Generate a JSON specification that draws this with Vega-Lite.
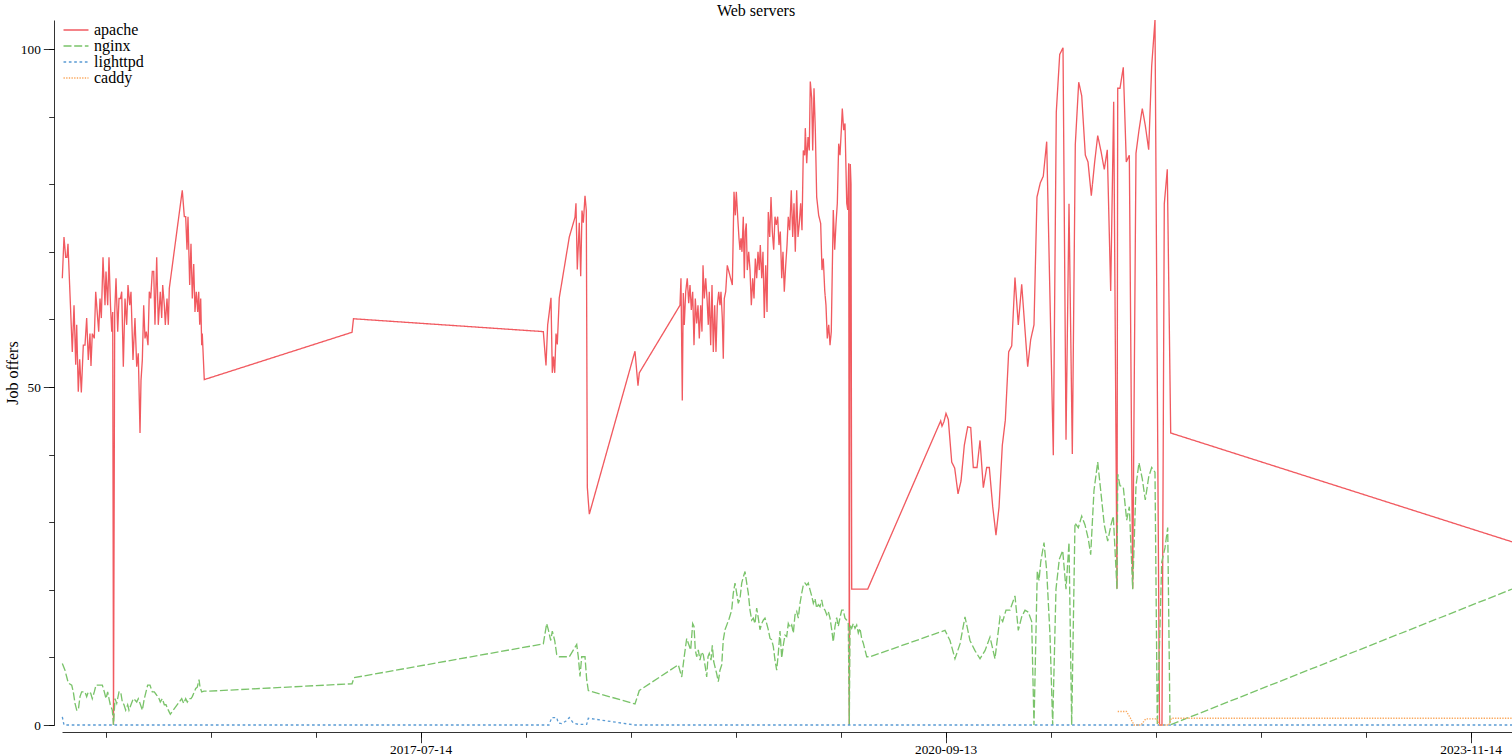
{
"$schema":"https://vega.github.io/schema/vega-lite/v6.json",
"width":1450,"height":705,
"autosize":{"type":"none"},
"padding":{"left":62,"top":20,"right":0,"bottom":31},
"background":"white",
"title":{"text":"Web servers","font":"Liberation Serif","fontSize":16,"fontWeight":"normal","color":"black","dx":-31,"dy":5,"offset":3,"anchor":"middle"},
"config":{"view":{"stroke":null},"font":"Liberation Serif"},
"data":{"values":[
{"server":"apache","time":1431.77e9,"offers":66.1},
{"server":"apache","time":1432.09e9,"offers":72.2},
{"server":"apache","time":1432.41e9,"offers":69.2},
{"server":"apache","time":1432.66e9,"offers":69.2},
{"server":"apache","time":1432.85e9,"offers":71.2},
{"server":"apache","time":1433.67e9,"offers":55.2},
{"server":"apache","time":1434.00e9,"offers":62.1},
{"server":"apache","time":1434.32e9,"offers":53.3},
{"server":"apache","time":1434.51e9,"offers":59.2},
{"server":"apache","time":1434.81e9,"offers":49.3},
{"server":"apache","time":1435.08e9,"offers":54.1},
{"server":"apache","time":1435.39e9,"offers":49.2},
{"server":"apache","time":1435.77e9,"offers":56.2},
{"server":"apache","time":1436.09e9,"offers":56.2},
{"server":"apache","time":1436.41e9,"offers":60.2},
{"server":"apache","time":1436.72e9,"offers":54.0},
{"server":"apache","time":1437.04e9,"offers":57.9},
{"server":"apache","time":1437.23e9,"offers":53.1},
{"server":"apache","time":1437.48e9,"offers":57.9},
{"server":"apache","time":1437.86e9,"offers":57.2},
{"server":"apache","time":1438.13e9,"offers":64.1},
{"server":"apache","time":1438.47e9,"offers":60.5},
{"server":"apache","time":1438.70e9,"offers":58.2},
{"server":"apache","time":1438.95e9,"offers":63.1},
{"server":"apache","time":1439.20e9,"offers":60.2},
{"server":"apache","time":1439.52e9,"offers":69.2},
{"server":"apache","time":1439.90e9,"offers":62.1},
{"server":"apache","time":1440.09e9,"offers":67.1},
{"server":"apache","time":1440.41e9,"offers":62.1},
{"server":"apache","time":1440.66e9,"offers":69.2},
{"server":"apache","time":1440.95e9,"offers":62.0},
{"server":"apache","time":1441.18e9,"offers":58.2},
{"server":"apache","time":1441.37e9,"offers":61.1},
{"server":"apache","time":1441.52e9,"offers":0},
{"server":"apache","time":1441.75e9,"offers":61.1},
{"server":"apache","time":1442.00e9,"offers":66.1},
{"server":"apache","time":1442.32e9,"offers":58.2},
{"server":"apache","time":1442.57e9,"offers":63.1},
{"server":"apache","time":1442.85e9,"offers":63.1},
{"server":"apache","time":1443.08e9,"offers":64.1},
{"server":"apache","time":1443.39e9,"offers":53.0},
{"server":"apache","time":1443.71e9,"offers":63.1},
{"server":"apache","time":1444.03e9,"offers":59.2},
{"server":"apache","time":1444.28e9,"offers":65.1},
{"server":"apache","time":1444.61e9,"offers":62.1},
{"server":"apache","time":1444.85e9,"offers":64.1},
{"server":"apache","time":1445.23e9,"offers":54.0},
{"server":"apache","time":1445.61e9,"offers":60.2},
{"server":"apache","time":1445.94e9,"offers":53.0},
{"server":"apache","time":1446.24e9,"offers":55.0},
{"server":"apache","time":1446.57e9,"offers":43.2},
{"server":"apache","time":1446.76e9,"offers":51.0},
{"server":"apache","time":1447.01e9,"offers":54.0},
{"server":"apache","time":1447.27e9,"offers":62.1},
{"server":"apache","time":1447.52e9,"offers":57.2},
{"server":"apache","time":1447.77e9,"offers":58.2},
{"server":"apache","time":1448.09e9,"offers":56.2},
{"server":"apache","time":1448.34e9,"offers":64.1},
{"server":"apache","time":1448.61e9,"offers":63.1},
{"server":"apache","time":1448.91e9,"offers":67.1},
{"server":"apache","time":1449.18e9,"offers":67.1},
{"server":"apache","time":1449.42e9,"offers":59.2},
{"server":"apache","time":1449.75e9,"offers":69.2},
{"server":"apache","time":1450.05e9,"offers":59.2},
{"server":"apache","time":1450.43e9,"offers":64.1},
{"server":"apache","time":1450.70e9,"offers":60.2},
{"server":"apache","time":1450.89e9,"offers":65.1},
{"server":"apache","time":1451.20e9,"offers":62.1},
{"server":"apache","time":1451.39e9,"offers":59.2},
{"server":"apache","time":1451.71e9,"offers":63.1},
{"server":"apache","time":1451.96e9,"offers":59.2},
{"server":"apache","time":1452.15e9,"offers":64.6},
{"server":"apache","time":1454.62e9,"offers":79.1},
{"server":"apache","time":1455.01e9,"offers":75.2},
{"server":"apache","time":1455.27e9,"offers":75.2},
{"server":"apache","time":1455.52e9,"offers":70.3},
{"server":"apache","time":1455.71e9,"offers":75.2},
{"server":"apache","time":1456.03e9,"offers":65.1},
{"server":"apache","time":1456.28e9,"offers":71.2},
{"server":"apache","time":1456.53e9,"offers":63.1},
{"server":"apache","time":1456.80e9,"offers":68.2},
{"server":"apache","time":1457.04e9,"offers":61.1},
{"server":"apache","time":1457.29e9,"offers":64.1},
{"server":"apache","time":1457.56e9,"offers":61.1},
{"server":"apache","time":1457.75e9,"offers":64.1},
{"server":"apache","time":1457.94e9,"offers":59.2},
{"server":"apache","time":1458.13e9,"offers":63.1},
{"server":"apache","time":1458.32e9,"offers":56.2},
{"server":"apache","time":1458.43e9,"offers":57.9},
{"server":"apache","time":1458.81e9,"offers":51.1},
{"server":"apache","time":1486.95e9,"offers":58.1},
{"server":"apache","time":1487.23e9,"offers":60.1},
{"server":"apache","time":1523.39e9,"offers":58.2},
{"server":"apache","time":1523.90e9,"offers":53.2},
{"server":"apache","time":1524.22e9,"offers":59.2},
{"server":"apache","time":1524.53e9,"offers":61.1},
{"server":"apache","time":1524.85e9,"offers":63.2},
{"server":"apache","time":1525.10e9,"offers":52.1},
{"server":"apache","time":1525.33e9,"offers":54.5},
{"server":"apache","time":1525.56e9,"offers":52.1},
{"server":"apache","time":1525.81e9,"offers":57.9},
{"server":"apache","time":1526.05e9,"offers":56.3},
{"server":"apache","time":1526.43e9,"offers":63.2},
{"server":"apache","time":1528.34e9,"offers":72.2},
{"server":"apache","time":1529.42e9,"offers":75.1},
{"server":"apache","time":1529.61e9,"offers":77.2},
{"server":"apache","time":1529.86e9,"offers":67.4},
{"server":"apache","time":1530.24e9,"offers":74.3},
{"server":"apache","time":1530.51e9,"offers":66.4},
{"server":"apache","time":1530.76e9,"offers":76.1},
{"server":"apache","time":1531.01e9,"offers":74.3},
{"server":"apache","time":1531.33e9,"offers":78.3},
{"server":"apache","time":1531.58e9,"offers":76.1},
{"server":"apache","time":1531.77e9,"offers":35.2},
{"server":"apache","time":1531.96e9,"offers":33.1},
{"server":"apache","time":1532.15e9,"offers":31.2},
{"server":"apache","time":1540.85e9,"offers":55.3},
{"server":"apache","time":1541.42e9,"offers":50.2},
{"server":"apache","time":1541.67e9,"offers":52.1},
{"server":"apache","time":1549.42e9,"offers":62.1},
{"server":"apache","time":1549.61e9,"offers":66.1},
{"server":"apache","time":1549.86e9,"offers":48.0},
{"server":"apache","time":1550.05e9,"offers":63.9},
{"server":"apache","time":1550.24e9,"offers":59.2},
{"server":"apache","time":1550.51e9,"offers":64.1},
{"server":"apache","time":1550.81e9,"offers":66.1},
{"server":"apache","time":1551.08e9,"offers":62.4},
{"server":"apache","time":1551.33e9,"offers":65.1},
{"server":"apache","time":1551.58e9,"offers":61.4},
{"server":"apache","time":1551.84e9,"offers":64.1},
{"server":"apache","time":1552.09e9,"offers":56.2},
{"server":"apache","time":1552.34e9,"offers":63.1},
{"server":"apache","time":1552.60e9,"offers":59.4},
{"server":"apache","time":1552.85e9,"offers":62.1},
{"server":"apache","time":1553.10e9,"offers":57.2},
{"server":"apache","time":1553.37e9,"offers":62.1},
{"server":"apache","time":1553.61e9,"offers":58.2},
{"server":"apache","time":1553.81e9,"offers":68.0},
{"server":"apache","time":1554.05e9,"offers":63.1},
{"server":"apache","time":1554.32e9,"offers":66.1},
{"server":"apache","time":1554.57e9,"offers":63.1},
{"server":"apache","time":1554.81e9,"offers":59.2},
{"server":"apache","time":1555.00e9,"offers":64.1},
{"server":"apache","time":1555.27e9,"offers":56.2},
{"server":"apache","time":1555.52e9,"offers":65.1},
{"server":"apache","time":1555.77e9,"offers":55.2},
{"server":"apache","time":1556.03e9,"offers":62.1},
{"server":"apache","time":1556.28e9,"offers":55.2},
{"server":"apache","time":1556.53e9,"offers":62.1},
{"server":"apache","time":1556.80e9,"offers":64.1},
{"server":"apache","time":1557.04e9,"offers":62.1},
{"server":"apache","time":1557.23e9,"offers":64.1},
{"server":"apache","time":1557.48e9,"offers":60.2},
{"server":"apache","time":1557.67e9,"offers":54.2},
{"server":"apache","time":1557.86e9,"offers":63.1},
{"server":"apache","time":1558.13e9,"offers":64.1},
{"server":"apache","time":1558.43e9,"offers":68.0},
{"server":"apache","time":1559.39e9,"offers":65.1},
{"server":"apache","time":1559.71e9,"offers":78.9},
{"server":"apache","time":1559.96e9,"offers":75.4},
{"server":"apache","time":1560.15e9,"offers":78.9},
{"server":"apache","time":1560.41e9,"offers":75.2},
{"server":"apache","time":1560.66e9,"offers":72.0},
{"server":"apache","time":1560.85e9,"offers":70.3},
{"server":"apache","time":1561.04e9,"offers":72.0},
{"server":"apache","time":1561.23e9,"offers":70.0},
{"server":"apache","time":1561.48e9,"offers":75.2},
{"server":"apache","time":1561.67e9,"offers":66.1},
{"server":"apache","time":1561.86e9,"offers":73.0},
{"server":"apache","time":1562.05e9,"offers":74.2},
{"server":"apache","time":1562.24e9,"offers":67.3},
{"server":"apache","time":1562.51e9,"offers":70.0},
{"server":"apache","time":1562.76e9,"offers":67.3},
{"server":"apache","time":1563.01e9,"offers":62.1},
{"server":"apache","time":1563.27e9,"offers":66.1},
{"server":"apache","time":1563.52e9,"offers":63.1},
{"server":"apache","time":1563.77e9,"offers":69.0},
{"server":"apache","time":1564.03e9,"offers":66.1},
{"server":"apache","time":1564.28e9,"offers":70.0},
{"server":"apache","time":1564.53e9,"offers":67.3},
{"server":"apache","time":1564.72e9,"offers":71.0},
{"server":"apache","time":1564.99e9,"offers":66.1},
{"server":"apache","time":1565.23e9,"offers":70.0},
{"server":"apache","time":1565.48e9,"offers":60.2},
{"server":"apache","time":1565.75e9,"offers":68.0},
{"server":"apache","time":1566.00e9,"offers":61.1},
{"server":"apache","time":1566.24e9,"offers":75.9},
{"server":"apache","time":1566.51e9,"offers":72.2},
{"server":"apache","time":1566.76e9,"offers":78.1},
{"server":"apache","time":1567.01e9,"offers":73.0},
{"server":"apache","time":1567.27e9,"offers":70.3},
{"server":"apache","time":1567.52e9,"offers":75.2},
{"server":"apache","time":1567.77e9,"offers":74.0},
{"server":"apache","time":1568.03e9,"offers":75.2},
{"server":"apache","time":1568.28e9,"offers":71.0},
{"server":"apache","time":1568.53e9,"offers":73.0},
{"server":"apache","time":1568.80e9,"offers":66.1},
{"server":"apache","time":1569.04e9,"offers":70.0},
{"server":"apache","time":1569.29e9,"offers":64.1},
{"server":"apache","time":1569.56e9,"offers":68.0},
{"server":"apache","time":1569.81e9,"offers":71.0},
{"server":"apache","time":1570.05e9,"offers":75.2},
{"server":"apache","time":1570.32e9,"offers":73.2},
{"server":"apache","time":1570.62e9,"offers":79.1},
{"server":"apache","time":1570.89e9,"offers":72.2},
{"server":"apache","time":1571.14e9,"offers":77.2},
{"server":"apache","time":1571.39e9,"offers":70.0},
{"server":"apache","time":1571.65e9,"offers":79.1},
{"server":"apache","time":1571.90e9,"offers":72.2},
{"server":"apache","time":1572.15e9,"offers":74.2},
{"server":"apache","time":1572.41e9,"offers":77.2},
{"server":"apache","time":1572.66e9,"offers":73.2},
{"server":"apache","time":1572.91e9,"offers":85.0},
{"server":"apache","time":1573.18e9,"offers":84.3},
{"server":"apache","time":1573.29e9,"offers":88.3},
{"server":"apache","time":1573.56e9,"offers":83.1},
{"server":"apache","time":1573.81e9,"offers":87.0},
{"server":"apache","time":1574.05e9,"offers":85.0},
{"server":"apache","time":1574.24e9,"offers":95.2},
{"server":"apache","time":1574.51e9,"offers":92.7},
{"server":"apache","time":1574.70e9,"offers":85.0},
{"server":"apache","time":1574.95e9,"offers":94.2},
{"server":"apache","time":1575.20e9,"offers":88.0},
{"server":"apache","time":1575.46e9,"offers":78.1},
{"server":"apache","time":1575.84e9,"offers":75.4},
{"server":"apache","time":1576.22e9,"offers":74.2},
{"server":"apache","time":1576.47e9,"offers":67.3},
{"server":"apache","time":1576.72e9,"offers":69.0},
{"server":"apache","time":1576.99e9,"offers":64.3},
{"server":"apache","time":1577.23e9,"offers":62.1},
{"server":"apache","time":1577.48e9,"offers":57.2},
{"server":"apache","time":1577.75e9,"offers":59.2},
{"server":"apache","time":1578.00e9,"offers":56.2},
{"server":"apache","time":1578.24e9,"offers":58.2},
{"server":"apache","time":1578.62e9,"offers":76.2},
{"server":"apache","time":1578.89e9,"offers":70.3},
{"server":"apache","time":1579.14e9,"offers":74.2},
{"server":"apache","time":1579.39e9,"offers":77.2},
{"server":"apache","time":1579.65e9,"offers":86.0},
{"server":"apache","time":1579.90e9,"offers":84.3},
{"server":"apache","time":1580.15e9,"offers":88.0},
{"server":"apache","time":1580.34e9,"offers":91.2},
{"server":"apache","time":1580.60e9,"offers":88.0},
{"server":"apache","time":1580.85e9,"offers":89.0},
{"server":"apache","time":1581.18e9,"offers":77.2},
{"server":"apache","time":1581.37e9,"offers":76.2},
{"server":"apache","time":1581.56e9,"offers":83.1},
{"server":"apache","time":1581.67e9,"offers":0},
{"server":"apache","time":1581.86e9,"offers":83.0},
{"server":"apache","time":1582.00e9,"offers":80.0},
{"server":"apache","time":1582.13e9,"offers":20.1},
{"server":"apache","time":1585.18e9,"offers":20.1},
{"server":"apache","time":1599.08e9,"offers":45.0},
{"server":"apache","time":1599.33e9,"offers":44.2},
{"server":"apache","time":1599.71e9,"offers":44.9},
{"server":"apache","time":1600.09e9,"offers":46.1},
{"server":"apache","time":1600.53e9,"offers":45.2},
{"server":"apache","time":1601.18e9,"offers":38.9},
{"server":"apache","time":1601.75e9,"offers":38.0},
{"server":"apache","time":1602.38e9,"offers":34.2},
{"server":"apache","time":1602.95e9,"offers":36.1},
{"server":"apache","time":1603.58e9,"offers":41.4},
{"server":"apache","time":1604.22e9,"offers":44.1},
{"server":"apache","time":1604.80e9,"offers":44.0},
{"server":"apache","time":1605.29e9,"offers":38.1},
{"server":"apache","time":1606.00e9,"offers":38.1},
{"server":"apache","time":1606.57e9,"offers":42.1},
{"server":"apache","time":1607.20e9,"offers":35.1},
{"server":"apache","time":1607.84e9,"offers":38.1},
{"server":"apache","time":1608.34e9,"offers":38.1},
{"server":"apache","time":1608.99e9,"offers":32.3},
{"server":"apache","time":1609.61e9,"offers":28.1},
{"server":"apache","time":1610.19e9,"offers":32.2},
{"server":"apache","time":1610.82e9,"offers":41.4},
{"server":"apache","time":1611.39e9,"offers":45.1},
{"server":"apache","time":1612.03e9,"offers":55.2},
{"server":"apache","time":1612.61e9,"offers":56.1},
{"server":"apache","time":1613.23e9,"offers":66.2},
{"server":"apache","time":1613.86e9,"offers":59.2},
{"server":"apache","time":1614.51e9,"offers":65.2},
{"server":"apache","time":1615.65e9,"offers":53.0},
{"server":"apache","time":1616.22e9,"offers":57.0},
{"server":"apache","time":1616.85e9,"offers":59.2},
{"server":"apache","time":1617.42e9,"offers":78.1},
{"server":"apache","time":1618.05e9,"offers":80.2},
{"server":"apache","time":1618.62e9,"offers":81.2},
{"server":"apache","time":1619.27e9,"offers":86.3},
{"server":"apache","time":1620.53e9,"offers":39.9},
{"server":"apache","time":1621.10e9,"offers":90.7},
{"server":"apache","time":1621.75e9,"offers":99.2},
{"server":"apache","time":1622.38e9,"offers":100.2},
{"server":"apache","time":1622.95e9,"offers":42.2},
{"server":"apache","time":1623.52e9,"offers":77.1},
{"server":"apache","time":1624.15e9,"offers":40.1},
{"server":"apache","time":1624.72e9,"offers":85.9},
{"server":"apache","time":1625.37e9,"offers":95.1},
{"server":"apache","time":1625.94e9,"offers":93.1},
{"server":"apache","time":1626.63e9,"offers":84.3},
{"server":"apache","time":1627.14e9,"offers":83.3},
{"server":"apache","time":1627.77e9,"offers":78.3},
{"server":"apache","time":1628.41e9,"offers":83.3},
{"server":"apache","time":1628.99e9,"offers":87.2},
{"server":"apache","time":1629.61e9,"offers":84.9},
{"server":"apache","time":1630.24e9,"offers":82.2},
{"server":"apache","time":1630.81e9,"offers":85.1},
{"server":"apache","time":1631.46e9,"offers":64.2},
{"server":"apache","time":1632.03e9,"offers":92.2},
{"server":"apache","time":1632.66e9,"offers":20.2},
{"server":"apache","time":1632.80e9,"offers":94.2},
{"server":"apache","time":1633.23e9,"offers":94.2},
{"server":"apache","time":1633.86e9,"offers":97.3},
{"server":"apache","time":1634.43e9,"offers":83.3},
{"server":"apache","time":1635.01e9,"offers":84.3},
{"server":"apache","time":1635.65e9,"offers":20.2},
{"server":"apache","time":1636.28e9,"offers":84.6},
{"server":"apache","time":1636.85e9,"offers":88.0},
{"server":"apache","time":1637.48e9,"offers":91.2},
{"server":"apache","time":1638.05e9,"offers":88.7},
{"server":"apache","time":1638.70e9,"offers":85.1},
{"server":"apache","time":1639.27e9,"offers":97.5},
{"server":"apache","time":1639.90e9,"offers":104.3},
{"server":"apache","time":1640.76e9,"offers":0},
{"server":"apache","time":1641.23e9,"offers":0},
{"server":"apache","time":1641.67e9,"offers":77.1},
{"server":"apache","time":1642.24e9,"offers":82.2},
{"server":"apache","time":1642.89e9,"offers":43.2},
{"server":"apache","time":1707.90e9,"offers":27.1},
{"server":"nginx","time":1431.77e9,"offers":9.1},
{"server":"nginx","time":1432.28e9,"offers":8.1},
{"server":"nginx","time":1432.61e9,"offers":7.1},
{"server":"nginx","time":1432.91e9,"offers":6.2},
{"server":"nginx","time":1433.56e9,"offers":5.9},
{"server":"nginx","time":1433.86e9,"offers":4.9},
{"server":"nginx","time":1434.19e9,"offers":3.2},
{"server":"nginx","time":1434.51e9,"offers":2.2},
{"server":"nginx","time":1434.81e9,"offers":2.2},
{"server":"nginx","time":1435.14e9,"offers":4.2},
{"server":"nginx","time":1435.46e9,"offers":4.9},
{"server":"nginx","time":1436.09e9,"offers":4.9},
{"server":"nginx","time":1436.41e9,"offers":4.2},
{"server":"nginx","time":1436.72e9,"offers":4.9},
{"server":"nginx","time":1437.18e9,"offers":4.7},
{"server":"nginx","time":1437.48e9,"offers":3.9},
{"server":"nginx","time":1437.86e9,"offers":4.9},
{"server":"nginx","time":1438.19e9,"offers":5.9},
{"server":"nginx","time":1438.76e9,"offers":5.9},
{"server":"nginx","time":1439.14e9,"offers":5.9},
{"server":"nginx","time":1439.39e9,"offers":5.9},
{"server":"nginx","time":1439.77e9,"offers":4.9},
{"server":"nginx","time":1440.09e9,"offers":3.9},
{"server":"nginx","time":1440.41e9,"offers":4.9},
{"server":"nginx","time":1440.66e9,"offers":3.9},
{"server":"nginx","time":1440.91e9,"offers":3.0},
{"server":"nginx","time":1441.29e9,"offers":2.2},
{"server":"nginx","time":1441.52e9,"offers":0},
{"server":"nginx","time":1441.81e9,"offers":3.9},
{"server":"nginx","time":1442.13e9,"offers":3.2},
{"server":"nginx","time":1442.57e9,"offers":4.9},
{"server":"nginx","time":1442.89e9,"offers":4.9},
{"server":"nginx","time":1443.20e9,"offers":3.4},
{"server":"nginx","time":1443.52e9,"offers":3.0},
{"server":"nginx","time":1443.84e9,"offers":2.2},
{"server":"nginx","time":1444.22e9,"offers":3.0},
{"server":"nginx","time":1444.47e9,"offers":2.2},
{"server":"nginx","time":1444.85e9,"offers":3.0},
{"server":"nginx","time":1445.29e9,"offers":3.9},
{"server":"nginx","time":1445.61e9,"offers":3.7},
{"server":"nginx","time":1445.94e9,"offers":3.4},
{"server":"nginx","time":1446.24e9,"offers":3.9},
{"server":"nginx","time":1446.57e9,"offers":3.2},
{"server":"nginx","time":1447.01e9,"offers":2.2},
{"server":"nginx","time":1447.39e9,"offers":3.9},
{"server":"nginx","time":1447.71e9,"offers":4.9},
{"server":"nginx","time":1448.03e9,"offers":5.9},
{"server":"nginx","time":1448.47e9,"offers":5.9},
{"server":"nginx","time":1448.91e9,"offers":4.9},
{"server":"nginx","time":1449.29e9,"offers":4.9},
{"server":"nginx","time":1449.75e9,"offers":4.4},
{"server":"nginx","time":1450.05e9,"offers":4.2},
{"server":"nginx","time":1450.43e9,"offers":3.4},
{"server":"nginx","time":1450.81e9,"offers":3.9},
{"server":"nginx","time":1451.20e9,"offers":3.0},
{"server":"nginx","time":1451.52e9,"offers":3.0},
{"server":"nginx","time":1451.96e9,"offers":2.2},
{"server":"nginx","time":1452.34e9,"offers":1.6},
{"server":"nginx","time":1454.51e9,"offers":3.9},
{"server":"nginx","time":1454.89e9,"offers":3.2},
{"server":"nginx","time":1455.27e9,"offers":3.9},
{"server":"nginx","time":1455.58e9,"offers":3.4},
{"server":"nginx","time":1455.96e9,"offers":3.9},
{"server":"nginx","time":1456.28e9,"offers":3.9},
{"server":"nginx","time":1456.53e9,"offers":4.2},
{"server":"nginx","time":1456.91e9,"offers":4.9},
{"server":"nginx","time":1457.18e9,"offers":5.4},
{"server":"nginx","time":1457.48e9,"offers":5.6},
{"server":"nginx","time":1457.81e9,"offers":6.7},
{"server":"nginx","time":1458.00e9,"offers":5.6},
{"server":"nginx","time":1458.32e9,"offers":4.9},
{"server":"nginx","time":1458.76e9,"offers":5.0},
{"server":"nginx","time":1459.58e9,"offers":5.0},
{"server":"nginx","time":1486.95e9,"offers":6.1},
{"server":"nginx","time":1487.33e9,"offers":7.0},
{"server":"nginx","time":1523.39e9,"offers":12.0},
{"server":"nginx","time":1524.03e9,"offers":15.0},
{"server":"nginx","time":1524.34e9,"offers":14.1},
{"server":"nginx","time":1524.80e9,"offers":12.5},
{"server":"nginx","time":1525.10e9,"offers":13.9},
{"server":"nginx","time":1525.56e9,"offers":12.5},
{"server":"nginx","time":1525.94e9,"offers":10.4},
{"server":"nginx","time":1526.43e9,"offers":10.1},
{"server":"nginx","time":1528.34e9,"offers":10.1},
{"server":"nginx","time":1529.75e9,"offers":11.9},
{"server":"nginx","time":1530.05e9,"offers":10.1},
{"server":"nginx","time":1530.38e9,"offers":7.2},
{"server":"nginx","time":1530.70e9,"offers":10.1},
{"server":"nginx","time":1531.33e9,"offers":10.1},
{"server":"nginx","time":1531.65e9,"offers":6.7},
{"server":"nginx","time":1531.96e9,"offers":5.1},
{"server":"nginx","time":1540.85e9,"offers":3.1},
{"server":"nginx","time":1541.67e9,"offers":5.1},
{"server":"nginx","time":1549.10e9,"offers":8.9},
{"server":"nginx","time":1549.75e9,"offers":7.1},
{"server":"nginx","time":1550.19e9,"offers":9.9},
{"server":"nginx","time":1550.70e9,"offers":12.8},
{"server":"nginx","time":1551.01e9,"offers":12.1},
{"server":"nginx","time":1551.46e9,"offers":11.1},
{"server":"nginx","time":1551.84e9,"offers":15.0},
{"server":"nginx","time":1552.09e9,"offers":14.6},
{"server":"nginx","time":1552.34e9,"offers":11.1},
{"server":"nginx","time":1552.60e9,"offers":10.1},
{"server":"nginx","time":1552.91e9,"offers":11.1},
{"server":"nginx","time":1553.23e9,"offers":9.6},
{"server":"nginx","time":1553.56e9,"offers":10.8},
{"server":"nginx","time":1553.86e9,"offers":10.4},
{"server":"nginx","time":1554.24e9,"offers":8.6},
{"server":"nginx","time":1554.51e9,"offers":7.1},
{"server":"nginx","time":1554.76e9,"offers":10.1},
{"server":"nginx","time":1555.00e9,"offers":10.6},
{"server":"nginx","time":1555.33e9,"offers":9.6},
{"server":"nginx","time":1555.58e9,"offers":11.8},
{"server":"nginx","time":1555.84e9,"offers":9.4},
{"server":"nginx","time":1556.09e9,"offers":8.6},
{"server":"nginx","time":1556.41e9,"offers":7.6},
{"server":"nginx","time":1556.72e9,"offers":6.4},
{"server":"nginx","time":1557.04e9,"offers":8.1},
{"server":"nginx","time":1557.37e9,"offers":8.9},
{"server":"nginx","time":1557.67e9,"offers":12.6},
{"server":"nginx","time":1558.00e9,"offers":14.1},
{"server":"nginx","time":1558.43e9,"offers":15.0},
{"server":"nginx","time":1558.81e9,"offers":15.8},
{"server":"nginx","time":1559.27e9,"offers":17.0},
{"server":"nginx","time":1559.58e9,"offers":19.5},
{"server":"nginx","time":1559.90e9,"offers":21.0},
{"server":"nginx","time":1560.22e9,"offers":19.5},
{"server":"nginx","time":1560.53e9,"offers":18.0},
{"server":"nginx","time":1560.85e9,"offers":18.7},
{"server":"nginx","time":1561.18e9,"offers":21.0},
{"server":"nginx","time":1561.48e9,"offers":21.9},
{"server":"nginx","time":1561.81e9,"offers":22.7},
{"server":"nginx","time":1562.13e9,"offers":21.0},
{"server":"nginx","time":1562.43e9,"offers":19.5},
{"server":"nginx","time":1562.76e9,"offers":17.0},
{"server":"nginx","time":1563.08e9,"offers":15.5},
{"server":"nginx","time":1563.39e9,"offers":15.8},
{"server":"nginx","time":1563.71e9,"offers":15.0},
{"server":"nginx","time":1564.03e9,"offers":17.3},
{"server":"nginx","time":1564.34e9,"offers":15.8},
{"server":"nginx","time":1564.66e9,"offers":14.1},
{"server":"nginx","time":1564.99e9,"offers":15.0},
{"server":"nginx","time":1565.29e9,"offers":15.5},
{"server":"nginx","time":1565.61e9,"offers":15.8},
{"server":"nginx","time":1565.94e9,"offers":15.0},
{"server":"nginx","time":1566.24e9,"offers":14.1},
{"server":"nginx","time":1566.57e9,"offers":12.8},
{"server":"nginx","time":1566.89e9,"offers":12.6},
{"server":"nginx","time":1567.20e9,"offers":11.6},
{"server":"nginx","time":1567.52e9,"offers":9.6},
{"server":"nginx","time":1567.84e9,"offers":8.1},
{"server":"nginx","time":1568.15e9,"offers":10.6},
{"server":"nginx","time":1568.47e9,"offers":13.9},
{"server":"nginx","time":1568.80e9,"offers":9.9},
{"server":"nginx","time":1569.10e9,"offers":11.8},
{"server":"nginx","time":1569.42e9,"offers":13.3},
{"server":"nginx","time":1569.75e9,"offers":13.1},
{"server":"nginx","time":1570.05e9,"offers":15.0},
{"server":"nginx","time":1570.38e9,"offers":14.4},
{"server":"nginx","time":1570.70e9,"offers":14.8},
{"server":"nginx","time":1571.01e9,"offers":13.6},
{"server":"nginx","time":1571.33e9,"offers":16.3},
{"server":"nginx","time":1571.65e9,"offers":16.8},
{"server":"nginx","time":1571.96e9,"offers":15.8},
{"server":"nginx","time":1572.28e9,"offers":18.0},
{"server":"nginx","time":1572.61e9,"offers":19.5},
{"server":"nginx","time":1572.91e9,"offers":20.7},
{"server":"nginx","time":1573.23e9,"offers":21.0},
{"server":"nginx","time":1573.56e9,"offers":20.7},
{"server":"nginx","time":1573.86e9,"offers":21.0},
{"server":"nginx","time":1574.19e9,"offers":20.0},
{"server":"nginx","time":1574.51e9,"offers":19.1},
{"server":"nginx","time":1574.82e9,"offers":18.0},
{"server":"nginx","time":1575.14e9,"offers":18.7},
{"server":"nginx","time":1575.46e9,"offers":17.3},
{"server":"nginx","time":1575.77e9,"offers":17.8},
{"server":"nginx","time":1576.09e9,"offers":17.5},
{"server":"nginx","time":1576.41e9,"offers":18.5},
{"server":"nginx","time":1576.72e9,"offers":17.3},
{"server":"nginx","time":1577.04e9,"offers":17.0},
{"server":"nginx","time":1577.37e9,"offers":16.3},
{"server":"nginx","time":1577.67e9,"offers":16.8},
{"server":"nginx","time":1578.00e9,"offers":15.8},
{"server":"nginx","time":1578.32e9,"offers":14.1},
{"server":"nginx","time":1578.62e9,"offers":12.3},
{"server":"nginx","time":1578.95e9,"offers":14.6},
{"server":"nginx","time":1579.27e9,"offers":15.9},
{"server":"nginx","time":1579.58e9,"offers":14.6},
{"server":"nginx","time":1579.90e9,"offers":15.9},
{"server":"nginx","time":1580.22e9,"offers":17.0},
{"server":"nginx","time":1580.53e9,"offers":17.0},
{"server":"nginx","time":1580.85e9,"offers":15.8},
{"server":"nginx","time":1581.18e9,"offers":15.5},
{"server":"nginx","time":1581.48e9,"offers":15.0},
{"server":"nginx","time":1581.67e9,"offers":0},
{"server":"nginx","time":1581.81e9,"offers":14.8},
{"server":"nginx","time":1582.13e9,"offers":14.3},
{"server":"nginx","time":1582.43e9,"offers":15.0},
{"server":"nginx","time":1582.76e9,"offers":14.3},
{"server":"nginx","time":1583.08e9,"offers":14.8},
{"server":"nginx","time":1583.39e9,"offers":13.6},
{"server":"nginx","time":1583.71e9,"offers":14.3},
{"server":"nginx","time":1584.03e9,"offers":12.8},
{"server":"nginx","time":1584.34e9,"offers":12.1},
{"server":"nginx","time":1584.66e9,"offers":11.1},
{"server":"nginx","time":1584.99e9,"offers":10.1},
{"server":"nginx","time":1585.61e9,"offers":10.1},
{"server":"nginx","time":1599.90e9,"offers":14.0},
{"server":"nginx","time":1600.85e9,"offers":12.5},
{"server":"nginx","time":1601.80e9,"offers":9.8},
{"server":"nginx","time":1602.76e9,"offers":12.0},
{"server":"nginx","time":1603.71e9,"offers":16.0},
{"server":"nginx","time":1604.66e9,"offers":12.5},
{"server":"nginx","time":1605.61e9,"offers":11.0},
{"server":"nginx","time":1606.57e9,"offers":9.8},
{"server":"nginx","time":1607.52e9,"offers":11.0},
{"server":"nginx","time":1608.47e9,"offers":13.0},
{"server":"nginx","time":1609.42e9,"offers":9.8},
{"server":"nginx","time":1610.38e9,"offers":16.0},
{"server":"nginx","time":1610.89e9,"offers":15.3},
{"server":"nginx","time":1611.52e9,"offers":17.0},
{"server":"nginx","time":1612.28e9,"offers":17.0},
{"server":"nginx","time":1613.23e9,"offers":19.1},
{"server":"nginx","time":1613.86e9,"offers":14.0},
{"server":"nginx","time":1614.51e9,"offers":16.0},
{"server":"nginx","time":1615.14e9,"offers":17.0},
{"server":"nginx","time":1615.77e9,"offers":16.7},
{"server":"nginx","time":1616.41e9,"offers":15.3},
{"server":"nginx","time":1616.85e9,"offers":0},
{"server":"nginx","time":1617.48e9,"offers":22.8},
{"server":"nginx","time":1617.81e9,"offers":21.4},
{"server":"nginx","time":1618.13e9,"offers":24.1},
{"server":"nginx","time":1618.76e9,"offers":27.0},
{"server":"nginx","time":1619.27e9,"offers":22.8},
{"server":"nginx","time":1619.90e9,"offers":13.3},
{"server":"nginx","time":1620.41e9,"offers":0},
{"server":"nginx","time":1621.04e9,"offers":20.1},
{"server":"nginx","time":1621.67e9,"offers":24.5},
{"server":"nginx","time":1622.32e9,"offers":25.8},
{"server":"nginx","time":1622.95e9,"offers":20.1},
{"server":"nginx","time":1623.52e9,"offers":27.0},
{"server":"nginx","time":1624.03e9,"offers":0},
{"server":"nginx","time":1624.66e9,"offers":29.9},
{"server":"nginx","time":1625.29e9,"offers":29.2},
{"server":"nginx","time":1625.94e9,"offers":30.9},
{"server":"nginx","time":1626.57e9,"offers":29.6},
{"server":"nginx","time":1627.20e9,"offers":27.5},
{"server":"nginx","time":1627.65e9,"offers":25.2},
{"server":"nginx","time":1628.28e9,"offers":34.7},
{"server":"nginx","time":1628.99e9,"offers":38.9},
{"server":"nginx","time":1629.61e9,"offers":34.3},
{"server":"nginx","time":1630.24e9,"offers":29.6},
{"server":"nginx","time":1630.89e9,"offers":27.2},
{"server":"nginx","time":1631.52e9,"offers":29.6},
{"server":"nginx","time":1631.96e9,"offers":30.9},
{"server":"nginx","time":1632.66e9,"offers":20.1},
{"server":"nginx","time":1632.80e9,"offers":37.1},
{"server":"nginx","time":1633.23e9,"offers":35.4},
{"server":"nginx","time":1633.86e9,"offers":35.2},
{"server":"nginx","time":1634.51e9,"offers":30.3},
{"server":"nginx","time":1635.01e9,"offers":32.3},
{"server":"nginx","time":1635.65e9,"offers":20.1},
{"server":"nginx","time":1636.28e9,"offers":35.4},
{"server":"nginx","time":1636.85e9,"offers":38.8},
{"server":"nginx","time":1637.48e9,"offers":36.4},
{"server":"nginx","time":1638.05e9,"offers":33.3},
{"server":"nginx","time":1638.70e9,"offers":36.7},
{"server":"nginx","time":1639.27e9,"offers":38.1},
{"server":"nginx","time":1639.90e9,"offers":37.4},
{"server":"nginx","time":1640.34e9,"offers":0},
{"server":"nginx","time":1641.18e9,"offers":24.1},
{"server":"nginx","time":1641.80e9,"offers":26.2},
{"server":"nginx","time":1642.32e9,"offers":29.2},
{"server":"nginx","time":1642.76e9,"offers":0},
{"server":"nginx","time":1707.90e9,"offers":20.1},
{"server":"lighttpd","time":1431.77e9,"offers":1.2},
{"server":"lighttpd","time":1432.09e9,"offers":0},
{"server":"lighttpd","time":1524.47e9,"offers":0},
{"server":"lighttpd","time":1524.99e9,"offers":1.1},
{"server":"lighttpd","time":1525.94e9,"offers":1.1},
{"server":"lighttpd","time":1526.24e9,"offers":0.3},
{"server":"lighttpd","time":1526.89e9,"offers":0.2},
{"server":"lighttpd","time":1527.71e9,"offers":0.6},
{"server":"lighttpd","time":1528.34e9,"offers":1.1},
{"server":"lighttpd","time":1529.10e9,"offers":0.3},
{"server":"lighttpd","time":1530.05e9,"offers":0.1},
{"server":"lighttpd","time":1531.65e9,"offers":0.1},
{"server":"lighttpd","time":1531.96e9,"offers":1.0},
{"server":"lighttpd","time":1540.85e9,"offers":0},
{"server":"lighttpd","time":1707.90e9,"offers":0},
{"server":"caddy","time":1632.80e9,"offers":2.0},
{"server":"caddy","time":1634.47e9,"offers":2.0},
{"server":"caddy","time":1635.23e9,"offers":1.0},
{"server":"caddy","time":1635.90e9,"offers":0},
{"server":"caddy","time":1637.23e9,"offers":0},
{"server":"caddy","time":1638.13e9,"offers":0.9},
{"server":"caddy","time":1640.28e9,"offers":0.9},
{"server":"caddy","time":1640.78e9,"offers":0},
{"server":"caddy","time":1642.57e9,"offers":0},
{"server":"caddy","time":1643.01e9,"offers":1.0},
{"server":"caddy","time":1707.90e9,"offers":1.0}
]},
"layer":[
{"mark":{"type":"line","strokeWidth":1.33,"strokeCap":"butt","clip":false},
 "encoding":{
  "x":{"field":"time","type":"temporal","scale":{"type":"utc","domain":[1431710000000,1707900000000]},
       "axis":{"orient":"bottom","offset":7,"values":[1.44e12,1.46e12,1.48e12,1.50e12,1.52e12,1.54e12,1.56e12,1.58e12,1.60e12,1.62e12,1.64e12,1.66e12,1.68e12,1.70e12],"tickSize":5.3,"labels":false,"title":null,"grid":false,"domainColor":"black","domainWidth":0.8,"tickColor":"black","tickWidth":0.8}},
  "y":{"field":"offers","type":"quantitative","scale":{"domain":[0,104.3],"nice":false,"zero":false},
       "axis":{"orient":"left","offset":8,"values":[0,10,20,30,40,50,60,70,80,90,100],"tickSize":5.3,"labels":false,"title":null,"grid":false,"domainColor":"black","domainWidth":0.8,"tickColor":"black","tickWidth":0.8}},
  "color":{"field":"server","type":"nominal","scale":{"domain":["apache","nginx","lighttpd","caddy"],"range":["#f15a60","#7ac36a","#5a9bd4","#faa75b"]},
       "legend":{"orient":"none","legendX":6,"legendY":2,"direction":"vertical","title":null,"labelFont":"Liberation Serif","labelFontSize":16,"labelColor":"black","labelBaseline":"middle","symbolType":"M-2,0H2","symbolSize":156,"symbolStrokeWidth":1.33,"rowPadding":0,"labelOffset":10,"padding":0}},
  "strokeDash":{"field":"server","type":"nominal","scale":{"domain":["apache","nginx","lighttpd","caddy"],"range":[[1,0],[8,2.67],[2.67,2.67],[1.33,1.33]]}}
 }},
{"mark":{"type":"point","opacity":0},
 "encoding":{
  "x":{"field":"time","type":"temporal","scale":{"type":"utc","domain":[1431710000000,1707900000000]},
       "axis":{"orient":"bottom","offset":7,"values":[1.5e12,1.6e12,1.7e12],"tickSize":10.7,"domain":false,"labelExpr":"utcFormat(datum.value, '%Y-%m-%d')","labelFont":"Liberation Serif","labelFontSize":13.3,"labelColor":"black","labelPadding":0,"labelFlush":false,"labelOverlap":false,"title":null,"grid":false,"tickColor":"black","tickWidth":0.8}},
  "y":{"field":"offers","type":"quantitative","scale":{"domain":[0,104.3],"nice":false,"zero":false},
       "axis":{"orient":"left","offset":8,"values":[0,50,100],"tickSize":10.7,"domain":false,"labelFont":"Liberation Serif","labelFontSize":13.3,"labelColor":"black","labelPadding":3,"grid":false,"tickColor":"black","tickWidth":0.8,"title":"Job offers","titleFont":"Liberation Serif","titleFontSize":16,"titleFontWeight":"normal","titleColor":"black","titleX":-42,"titleY":352.5,"titleBaseline":"middle","titleAlign":"center","titleAngle":-90}}
 }}
],
"resolve":{"axis":{"x":"independent","y":"independent"}}
}
